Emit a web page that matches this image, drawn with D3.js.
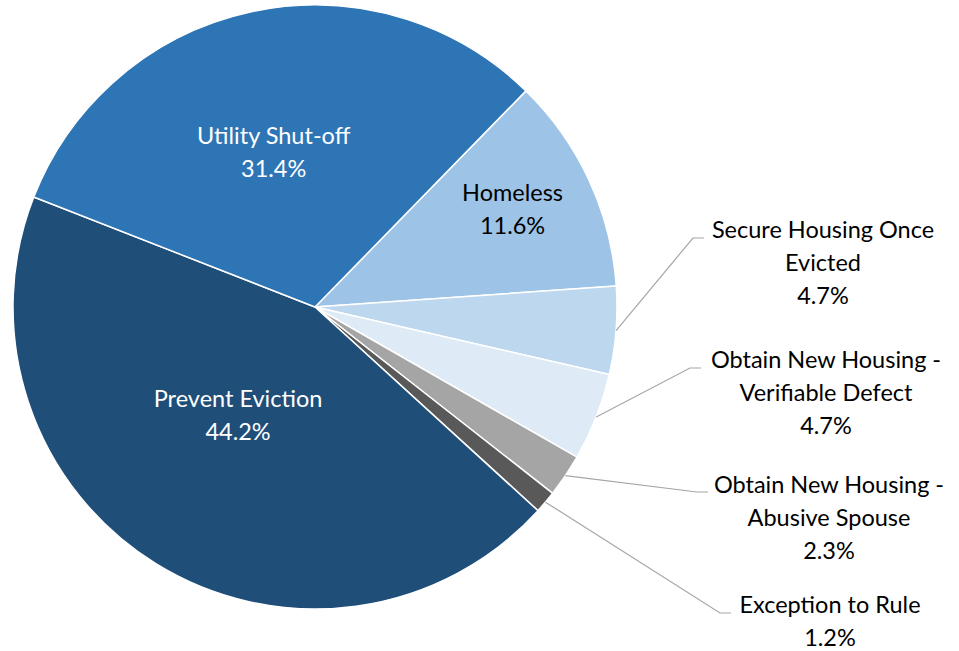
<!DOCTYPE html>
<html>
<head>
<meta charset="utf-8">
<script src="https://cdn.jsdelivr.net/npm/d3@7"></script>
<style>
  html, body { margin: 0; padding: 0; background: #fff; }
  svg { display: block; }
</style>
</head>
<body>
<div id="chart"></div>
<script>
// data, clockwise from the Homeless slice
const categories = [
  'Homeless',
  'Secure Housing Once Evicted',
  'Obtain New Housing - Verifiable Defect',
  'Obtain New Housing - Abusive Spouse',
  'Exception to Rule',
  'Prevent Eviction',
  'Utility Shut-off',
];
const shares = [11.6, 4.7, 4.7, 2.3, 1.2, 44.2, 31.4];
const labelLines = [
  ['Homeless'],
  ['Secure Housing Once', 'Evicted'],
  ['Obtain New Housing -', 'Verifiable Defect'],
  ['Obtain New Housing -', 'Abusive Spouse'],
  ['Exception to Rule'],
  ['Prevent Eviction'],
  ['Utility Shut-off'],
];
const colors = ['#9DC3E6', '#BDD7EE', '#DEEBF7', '#A5A5A5', '#595959', '#1F4E79', '#2E75B6'];

const par = {
  width: 959,
  height: 651,
  cx: 315,
  cy: 307,
  radius: 302,
  startDeg: 44.3,
  fontSize: 23.5,
  lineHeight: 33,
  font: 'Lato, "Open Sans", sans-serif',
  leaderColor: '#A6A6A6',
};

// label placement: inside labels by radius factor, outside ones by text anchor point
const inside = {
  0: { r: 0.73, dAng: -1.5, fill: '#000' },
  5: { r: 0.44, dAng: 3.5, fill: '#fff' },
  6: { r: 0.53, dAng: -2.8, fill: '#fff' },
};
const outside = {
  1: { x: 823, y: 230, elbowX: 693, elbowY: 238 },
  2: { x: 826, y: 360, elbowX: 690, elbowY: 368 },
  3: { x: 829, y: 485, elbowX: 697, elbowY: 492 },
  4: { x: 830, y: 605, elbowX: 720, elbowY: 613 },
};

const data = categories.map((c, i) => ({ id: i, name: c, value: shares[i], lines: labelLines[i] }));

const svg = d3.select('#chart').append('svg')
  .attr('width', par.width)
  .attr('height', par.height)
  .style('font-family', par.font);

const g = svg.append('g')
  .attr('transform', `translate(${par.cx},${par.cy})`);

const start = par.startDeg * Math.PI / 180;
const pie = d3.pie()
  .sort(null)
  .value(d => d.value)
  .startAngle(start)
  .endAngle(start + 2 * Math.PI);

const arc = d3.arc().innerRadius(0).outerRadius(par.radius);
const arcs = pie(data);

g.selectAll('path.slice')
  .data(arcs)
  .enter().append('path')
  .attr('class', 'slice')
  .attr('d', arc)
  .style('fill', (d, i) => colors[i])
  .style('stroke', '#fff')
  .style('stroke-width', 1.5)
  .style('stroke-linejoin', 'round');

// helper for polar positions (0 = 12 o'clock, clockwise)
const polar = (ang, r) => [Math.sin(ang) * r, -Math.cos(ang) * r];

// inside labels
arcs.forEach((a, i) => {
  const cfg = inside[i];
  if (!cfg) return;
  const mid = (a.startAngle + a.endAngle) / 2 + cfg.dAng * Math.PI / 180;
  const [x, y] = polar(mid, par.radius * cfg.r);
  const lines = a.data.lines.concat([`${a.data.value.toFixed(1)}%`]);
  const t = g.append('text')
    .attr('text-anchor', 'middle')
    .style('font-size', `${par.fontSize}px`)
    .style('fill', cfg.fill);
  lines.forEach((ln, k) => {
    t.append('tspan')
      .attr('x', x)
      .attr('y', y + (k - (lines.length - 1) / 2) * par.lineHeight)
      .attr('dy', '0.35em')
      .text(ln);
  });
});

// outside labels with leader lines
arcs.forEach((a, i) => {
  const cfg = outside[i];
  if (!cfg) return;
  const mid = (a.startAngle + a.endAngle) / 2;
  const [px, py] = polar(mid, par.radius);
  svg.append('polyline')
    .attr('points', [
      [par.cx + px, par.cy + py],
      [cfg.elbowX, cfg.elbowY],
      [cfg.elbowX + 11, cfg.elbowY],
    ].map(p => p.join(',')).join(' '))
    .style('fill', 'none')
    .style('stroke', par.leaderColor)
    .style('stroke-width', 1.2);

  const lines = a.data.lines.concat([`${a.data.value.toFixed(1)}%`]);
  const t = svg.append('text')
    .attr('text-anchor', 'middle')
    .style('font-size', `${par.fontSize}px`)
    .style('fill', '#000');
  lines.forEach((ln, k) => {
    t.append('tspan')
      .attr('x', cfg.x)
      .attr('y', cfg.y + k * par.lineHeight)
      .attr('dy', '0.35em')
      .text(ln);
  });
});
</script>
</body>
</html>
